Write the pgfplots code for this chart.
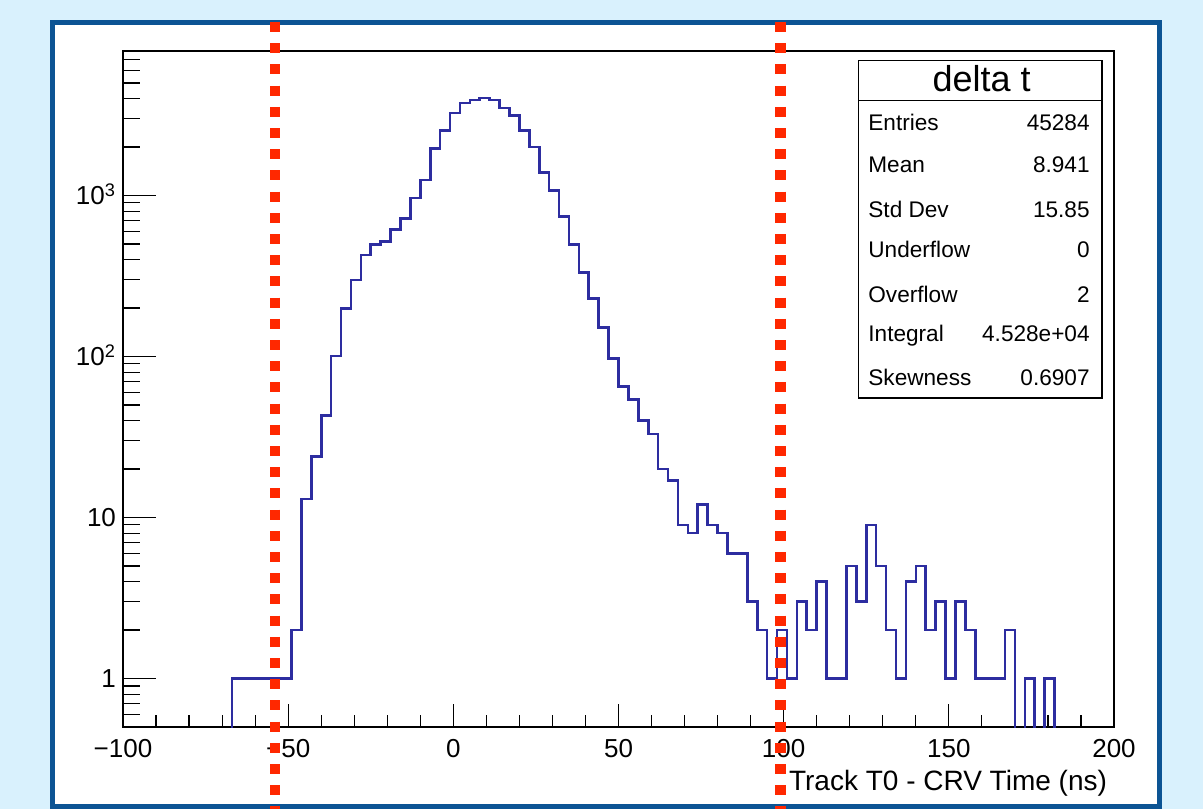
\documentclass[border=0pt]{standalone}
\usepackage{pgfplots}
\usepackage{pgfplotstable}
\pgfplotsset{compat=1.18}
\usepackage{fontspec}
\setmainfont{Liberation Sans}
\definecolor{bgblue}{RGB}{217,241,253}
\definecolor{frameblue}{RGB}{12,84,148}
\definecolor{histblue}{RGB}{45,45,160}
\definecolor{cutred}{RGB}{255,40,0}

% histogram: bin lower edge, content (0.1 stands for an empty bin, below the axis)
\pgfplotstableread{
x y
-70 0.1
-67 1
-64 1
-61 1
-58 1
-55 1
-52 1
-49 2
-46 13
-43 24
-40 43
-37 101
-34 198
-31 299
-28 426
-25 495
-22 517
-19 617
-16 718
-13 963
-10 1247
-7 1961
-4 2544
-1 3260
2 3760
5 3925
8 4040
11 3925
14 3500
17 3140
20 2544
23 2006
26 1384
29 1076
32 739
35 498
38 332
41 229
44 151
47 97
50 65
53 54
56 40
59 33
62 20
65 17
68 9
71 8
74 12
77 9
80 8
83 6
86 6
89 3
92 2
95 1
98 2
101 1
104 3
107 2
110 4
113 1
116 1
119 5
122 3
125 9
128 5
131 2
134 1
137 4
140 5
143 2
146 3
149 1
152 3
155 2
158 1
161 1
164 1
167 2
170 0.1
173 1
176 0.1
179 1
182 0.1
185 0.1
}\histdata

\begin{document}
\begin{tikzpicture}
\fill[bgblue] (-61.5pt,-41pt) rectangle (540pt,363.5pt);
\filldraw[fill=white, draw=frameblue, line width=2.6pt] (-35.25pt,-39.75pt) rectangle (518.25pt,352.25pt);

\begin{axis}[
  at={(0,0)}, anchor=south west,
  scale only axis, width=495.5pt, height=338pt,
  xmin=-100, xmax=200,
  ymode=log, ymin=0.5, ymax=7900,
  xtick={-100,-50,0,50,100,150,200},
  xticklabels={−100,−50,0,50,100,150,200},
  minor xtick={-90,-80,-70,-60,-40,-30,-20,-10,10,20,30,40,60,70,80,90,110,120,130,140,160,170,180,190},
  ytick=\empty,
  xtick pos=left,
  tick align=inside,
  major tick length=11.5pt, minor tick length=6pt,
  tick style={black, line width=0.6pt},
  axis line style={black, line width=0.7pt},
  xticklabel style={font=\fontsize{13}{15}\selectfont, anchor=base, yshift=-15.2pt},
  xlabel={Track T0 - CRV Time (ns)},
  every axis x label/.style={at={(rel axis cs:1,0)}, anchor=base east, yshift=-31.5pt, font=\fontsize{14}{16}\selectfont},
  clip=true,
]
\addplot[const plot mark left, color=histblue, line width=1.3pt, mark=none] table {\histdata};
\end{axis}

% statistics box
\filldraw[fill=white, draw=black, line width=0.8pt] (367.7pt,164.4pt) rectangle (489.6pt,333.2pt);
\draw[line width=0.8pt] (367.7pt,313.2pt) -- (489.6pt,313.2pt);
\node[anchor=base, inner sep=0pt, font=\fontsize{18}{20}\selectfont] at (429.3pt,317.7pt) {delta t};
\begin{scope}[every node/.style={inner sep=0pt, font=\fontsize{11.3}{13}\selectfont}]
\node[anchor=base west] at (372.5pt,298.2pt) {Entries};
\node[anchor=base east] at (483.5pt,298.2pt) {45284};
\node[anchor=base west] at (372.5pt,277pt) {Mean};
\node[anchor=base east] at (483.5pt,277pt) {8.941};
\node[anchor=base west] at (372.5pt,254.9pt) {Std Dev};
\node[anchor=base east] at (483.5pt,254.9pt) {15.85};
\node[anchor=base west] at (372.5pt,234.5pt) {Underflow};
\node[anchor=base east] at (483.5pt,234.5pt) {0};
\node[anchor=base west] at (372.5pt,212pt) {Overflow};
\node[anchor=base east] at (483.5pt,212pt) {2};
\node[anchor=base west] at (372.5pt,192.5pt) {Integral};
\node[anchor=base east] at (483.5pt,192.5pt) {4.528e+04};
\node[anchor=base west] at (372.5pt,170.5pt) {Skewness};
\node[anchor=base east] at (483.5pt,170.5pt) {0.6907};
\end{scope}

\begin{axis}[
  at={(0,0)}, anchor=south west,
  scale only axis, width=495.5pt, height=338pt,
  xmin=-100, xmax=200,
  ymode=log, ymin=0.5, ymax=7900,
  hide x axis,
  axis y line*=left,
  ytick={1,10,100,1000},
  yticklabels={1,10,10\textsuperscript{2},10\textsuperscript{3}},
  minor ytick={0.6,0.7,0.8,0.9,2,3,4,5,6,7,8,9,20,30,40,50,60,70,80,90,200,300,400,500,600,700,800,900,2000,3000,4000,5000,6000,7000},
  ytick pos=left,
  tick align=inside,
  major tick length=16.5pt, minor tick length=8.5pt,
  tick style={black, line width=0.6pt},
  axis line style={black, line width=0.7pt, -},
  yticklabel style={font=\fontsize{13}{15}\selectfont, anchor=base east, yshift=-4.6pt},
  clip=false,
]
\draw[cutred, line width=5.25pt, dash pattern=on 5pt off 5.6pt]
  ({axis cs:-54,1}|-{rel axis cs:0,1.0429}) -- ({axis cs:-54,1}|-{rel axis cs:0,-0.1213});
\draw[cutred, line width=5.25pt, dash pattern=on 5pt off 5.6pt]
  ({axis cs:99,1}|-{rel axis cs:0,1.0429}) -- ({axis cs:99,1}|-{rel axis cs:0,-0.1213});
\end{axis}

\pgfresetboundingbox
\useasboundingbox (-61.5pt,-41pt) rectangle (540pt,363.5pt);
\end{tikzpicture}
\end{document}
